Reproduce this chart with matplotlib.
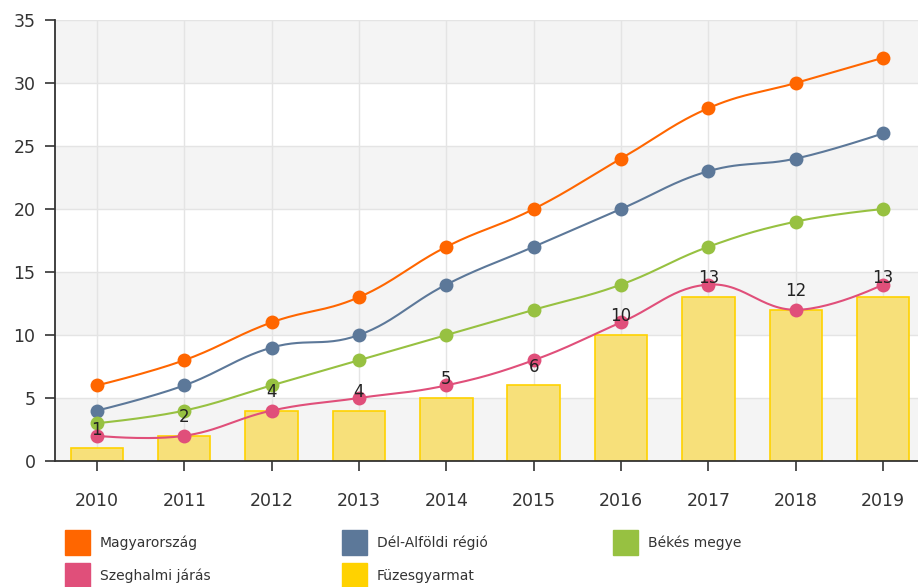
import numpy as np
import matplotlib.pyplot as plt
from matplotlib.patches import Rectangle

years = ['2010', '2011', '2012', '2013', '2014', '2015', '2016', '2017', '2018', '2019']

magyarorszag = [6, 8, 11, 13, 17, 20, 24, 28, 30, 32]
del_alfold = [4, 6, 9, 10, 14, 17, 20, 23, 24, 26]
bekes = [3, 4, 6, 8, 10, 12, 14, 17, 19, 20]
szeghalmi = [2, 2, 4, 5, 6, 8, 11, 14, 12, 14]
fuzesgyarmat = [1, 2, 4, 4, 5, 6, 10, 13, 12, 13]

line_names = ['Magyarország', 'Dél-Alföldi régió', 'Békés megye', 'Szeghalmi járás']
line_colors = ['#ff6600', '#5c7899', '#97c141', '#e04f7a']
bar_name = 'Füzesgyarmat'
bar_color = '#ffd200'


def spline(xs, ys, smoothing=1.5, n=30):
    # highcharts-szerű spline, bezier kontrollpontokkal
    xs = np.asarray(xs, float)
    ys = np.asarray(ys, float)
    k = len(xs)
    lc = [(xs[i], ys[i]) for i in range(k)]
    rc = [(xs[i], ys[i]) for i in range(k)]
    d = smoothing + 1
    for i in range(1, k - 1):
        x, y = xs[i], ys[i]
        lx = (smoothing * x + xs[i - 1]) / d
        ly = (smoothing * y + ys[i - 1]) / d
        rx = (smoothing * x + xs[i + 1]) / d
        ry = (smoothing * y + ys[i + 1]) / d
        corr = (ry - ly) * (rx - x) / (rx - lx) + y - ry
        lc[i] = (lx, ly + corr)
        rc[i] = (rx, ry + corr)
    t = np.linspace(0, 1, n)[:, None]
    pts = []
    for i in range(k - 1):
        p0 = np.array([xs[i], ys[i]])
        p1 = np.array(rc[i])
        p2 = np.array(lc[i + 1])
        p3 = np.array([xs[i + 1], ys[i + 1]])
        seg = (1 - t) ** 3 * p0 + 3 * (1 - t) ** 2 * t * p1 + 3 * (1 - t) * t ** 2 * p2 + t ** 3 * p3
        pts.append(seg if i == 0 else seg[1:])
    pts = np.vstack(pts)
    return pts[:, 0], pts[:, 1]


fig = plt.figure(figsize=(9.18, 5.87), dpi=100)
ax = fig.add_axes([55 / 918, 1 - 461 / 587, 1 - 55 / 918, (461 - 20) / 587])

x = np.arange(len(years))

# szürke sávok
for lo in range(0, 35, 10):
    ax.axhspan(lo, lo + 5, color='#f4f4f4', zorder=0, lw=0)

ax.bar(x, fuzesgyarmat, width=0.6, color='#f7e07a', edgecolor=bar_color, linewidth=1.2, zorder=2)
for xi, v in zip(x, fuzesgyarmat):
    ax.annotate(str(v), (xi, v), xytext=(0, 7), textcoords='offset points',
                ha='center', va='bottom', fontsize=12, color='#222222', zorder=6)

for vals, c in zip([magyarorszag, del_alfold, bekes, szeghalmi], line_colors):
    sx, sy = spline(x, vals)
    ax.plot(sx, sy, color=c, lw=1.5, zorder=3)
    ax.plot(x, vals, 'o', color=c, ms=10, mec='none', zorder=4)

ax.set_xlim(-0.48, 9.4)
ax.set_ylim(0, 35)
ax.set_yticks(range(0, 36, 5))
ax.set_xticks(x)
ax.set_xticklabels(years)
ax.grid(True, color='#e4e4e4', lw=1)
ax.set_axisbelow(True)
ax.tick_params(axis='y', length=7, width=1.2, pad=7, labelsize=12.5, colors='#333333')
ax.tick_params(axis='x', length=7, width=1.2, pad=15, labelsize=12.5, colors='#333333')
for s in ['top', 'right']:
    ax.spines[s].set_visible(False)
for s in ['left', 'bottom']:
    ax.spines[s].set_color('#333333')
    ax.spines[s].set_linewidth(1.3)

# jelmagyarázat
names = line_names + [bar_name]
colors = line_colors + [bar_color]
col_x = [65, 342, 613]
row_y = [530, 563]
for i, (nm, c) in enumerate(zip(names, colors)):
    px = col_x[i % 3]
    py = row_y[i // 3]
    fig.add_artist(Rectangle((px / 918, 1 - (py + 25) / 587), 25 / 918, 25 / 587,
                             transform=fig.transFigure, color=c))
    fig.text((px + 35) / 918, 1 - (py + 13) / 587, nm, fontsize=10, color='#333333', va='center')

fig.savefig('out.png', dpi=100)
